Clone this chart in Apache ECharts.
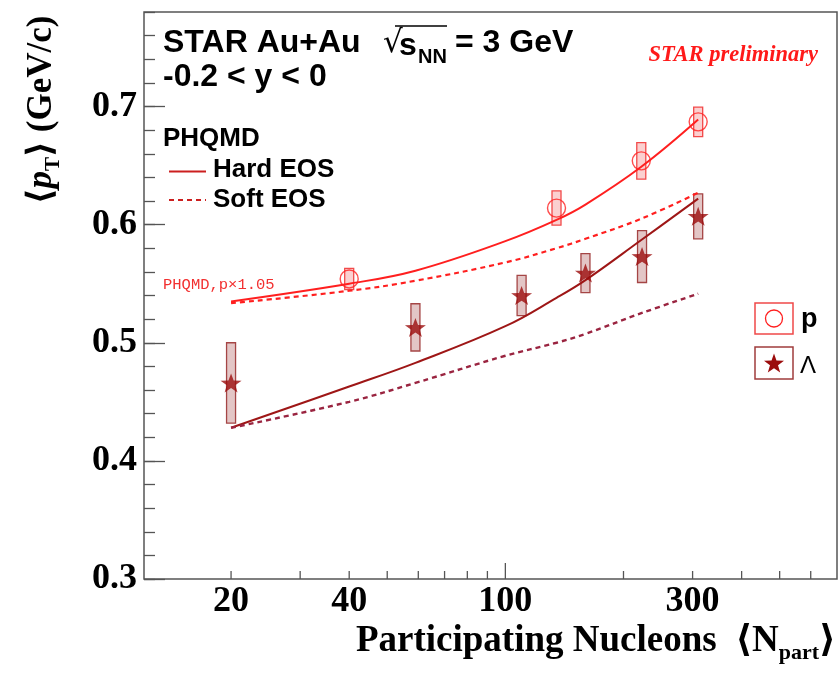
<!DOCTYPE html>
<html>
<head>
<meta charset="utf-8">
<script src="https://cdn.jsdelivr.net/npm/echarts@6/dist/echarts.min.js"></script>
<style>
  html, body { margin: 0; padding: 0; background: #ffffff; }
  #chart { width: 839px; height: 673px; }
</style>
</head>
<body>
<div id="chart"></div>
<script>
// Mean transverse momentum vs. number of participants, Au+Au at 3 GeV,
// protons and Lambdas with PHQMD model curves (hard / soft EOS).

// ---- measured points ----
const protonNpart = [40, 135, 222, 310];
const protonPt    = [0.554, 0.614, 0.654, 0.687];
const protonSys   = [0.009, 0.0145, 0.0155, 0.0125];

const lambdaNpart = [20, 59, 110, 160, 223, 310];
const lambdaPt    = [0.466, 0.513, 0.540, 0.559, 0.573, 0.607];
const lambdaSys   = [0.034, 0.020, 0.017, 0.0165, 0.022, 0.019];

// ---- PHQMD curves ----
const modelNpart   = [20, 40, 59, 100, 135, 160, 222, 310];
const protonHard   = [0.535, 0.550, 0.561, 0.586, 0.604, 0.617, 0.649, 0.689];
const protonSoft   = [0.5335, 0.544, 0.5525, 0.568, 0.580, 0.588, 0.605, 0.627];
const lambdaHard   = [0.428, 0.463, 0.483, 0.514, 0.538, 0.553, 0.587, 0.622];
const lambdaSoft   = [0.428, 0.450, 0.466, 0.489, 0.500, 0.5075, 0.525, 0.5415];

// ---- axis ticks / labels ----
const xMinorTicks = [20, 30, 40, 50, 60, 70, 80, 90, 200, 300, 400, 500, 600];
const xMajorTicks = [100];
const xTickLabels = [20, 40, 100, 300];

const X_MIN = 12, X_MAX = 700;
const Y_MIN = 0.3, Y_MAX = 0.78;

const RED = '#ff1f1f';
const DARK = '#9b0c0c';
const AXIS = '#555555';
const SERIF = '"Liberation Serif", "Times New Roman", "DejaVu Serif", serif';
const SANS = '"Liberation Sans", Arial, Helvetica, sans-serif';

// five-pointed star outline in a 100x100 box
const STAR_PTS = [[50, 0], [61.76, 33.82], [97.55, 34.55], [69.02, 56.18], [79.39, 90.45],
                  [50, 70], [20.61, 90.45], [30.98, 56.18], [2.45, 34.55], [38.24, 33.82]];
const STAR_PATH = 'M' + STAR_PTS.map(p => p[0] + ' ' + p[1]).join(' L') + ' Z';

// star polygon scaled to a given width and centred on (cx, cy)
function starPoints(cx, cy, w) {
  const s = w / 95.1;
  return STAR_PTS.map(p => [cx + (p[0] - 50) * s, cy + (p[1] - 45.2) * s]);
}

const zip = (xs, ys) => xs.map((x, i) => [x, ys[i]]);
const zip3 = (xs, ys, es) => xs.map((x, i) => [x, ys[i], es[i]]);

function boxRenderer(stroke, fill) {
  return function (params, api) {
    const x = api.value(0), y = api.value(1), e = api.value(2);
    const hi = api.coord([x, y + e]);
    const lo = api.coord([x, y - e]);
    return {
      type: 'rect',
      shape: { x: hi[0] - 4.5, y: hi[1], width: 9, height: lo[1] - hi[1] },
      style: { fill: fill, stroke: stroke, lineWidth: 1.3 }
    };
  };
}

function tickRenderer(len) {
  return function (params, api) {
    const p = api.coord([api.value(0), Y_MIN]);
    return {
      type: 'line',
      shape: { x1: p[0], y1: p[1], x2: p[0], y2: p[1] - len },
      style: { stroke: AXIS, lineWidth: 1.3 }
    };
  };
}

function xLabelRenderer(params, api) {
  const v = api.value(0);
  const p = api.coord([v, Y_MIN]);
  return {
    type: 'text',
    x: p[0], y: p[1] + 23,
    style: {
      text: String(v),
      font: 'bold 36px ' + SERIF,
      fill: '#000',
      align: 'center', verticalAlign: 'middle'
    }
  };
}

function curve(name, data, color, dashed, width) {
  return {
    name: name,
    type: 'line',
    data: data,
    smooth: 0.4,
    showSymbol: false,
    symbol: 'none',
    z: 3,
    lineStyle: { color: color, width: width, type: dashed ? [5, 4] : 'solid' }
  };
}

function label(x, y, text, font, extra) {
  return { type: 'text', x: x, y: y,
    style: Object.assign({ text: text, font: font, fill: '#000', verticalAlign: 'middle' }, extra || {}) };
}

const chart = echarts.init(document.getElementById('chart'), null, { renderer: 'canvas' });

const option = {
  animation: false,
  backgroundColor: '#ffffff',
  grid: {
    left: 144, top: 12, right: 2, bottom: 94,
    show: true, borderColor: AXIS, borderWidth: 1.5, backgroundColor: 'transparent'
  },
  xAxis: [{
    type: 'log', logBase: 10, min: X_MIN, max: X_MAX,
    axisLine: { show: false }, axisTick: { show: false },
    axisLabel: { show: false }, splitLine: { show: false }, minorTick: { show: false }
  }],
  yAxis: [{
    type: 'value', min: Y_MIN, max: Y_MAX, interval: 0.1,
    axisLine: { show: false },
    axisTick: { show: true, inside: true, length: 21, lineStyle: { color: AXIS, width: 1.3 } },
    axisLabel: {
      show: true, margin: 7, showMaxLabel: false,
      color: '#000', fontFamily: SERIF, fontWeight: 'bold', fontSize: 36,
      formatter: v => v.toFixed(1)
    },
    splitLine: { show: false }
  }, {
    type: 'value', min: Y_MIN, max: Y_MAX, interval: 0.02, position: 'left', offset: 0,
    axisLine: { show: false },
    axisTick: { show: true, inside: true, length: 11, lineStyle: { color: AXIS, width: 1.3 } },
    axisLabel: { show: false },
    splitLine: { show: false }
  }],
  series: [
    // x-axis ticks and labels on the log scale
    { type: 'custom', clip: false, silent: true, z: 5, data: xMinorTicks.map(v => [v, Y_MIN]), renderItem: tickRenderer(8) },
    { type: 'custom', clip: false, silent: true, z: 5, data: xMajorTicks.map(v => [v, Y_MIN]), renderItem: tickRenderer(16) },
    { type: 'custom', clip: false, silent: true, z: 5, data: xTickLabels.map(v => [v, Y_MIN]), renderItem: xLabelRenderer },

    // systematic-uncertainty boxes
    { name: 'p sys', type: 'custom', z: 2, data: zip3(protonNpart, protonPt, protonSys),
      renderItem: boxRenderer('#f24a4a', 'rgba(248, 176, 176, 0.6)') },
    { name: 'Lambda sys', type: 'custom', z: 2, data: zip3(lambdaNpart, lambdaPt, lambdaSys),
      renderItem: boxRenderer('#a54545', 'rgba(212, 168, 168, 0.65)') },

    // model curves
    curve('PHQMD p hard', zip(modelNpart, protonHard), RED, false, 2),
    curve('PHQMD p soft', zip(modelNpart, protonSoft), RED, true, 2.2),
    curve('PHQMD Lambda hard', zip(modelNpart, lambdaHard), '#9e1616', false, 2),
    curve('PHQMD Lambda soft', zip(modelNpart, lambdaSoft), '#9a2440', true, 2.4),

    // data markers
    { name: 'p', type: 'scatter', z: 4, data: zip(protonNpart, protonPt),
      symbol: 'circle', symbolSize: 18,
      itemStyle: { color: 'rgba(0,0,0,0)', borderColor: RED, borderWidth: 1.4 } },
    { name: 'Λ', type: 'scatter', z: 4, data: zip(lambdaNpart, lambdaPt),
      symbol: 'path://' + STAR_PATH, symbolSize: [21, 20], symbolKeepAspect: true,
      itemStyle: { color: DARK } }
  ],
  graphic: [
    // header
    label(163, 43, 'STAR Au+Au', 'bold 32px ' + SANS),
    label(383, 44, '√', '31px "DejaVu Sans", sans-serif'),
    { type: 'line', shape: { x1: 395, y1: 26, x2: 447, y2: 26 }, style: { stroke: '#000', lineWidth: 1.5 } },
    label(399, 46, 's', 'bold 32px ' + SANS),
    label(418, 57, 'NN', 'bold 20px ' + SANS),
    label(455, 43, '= 3 GeV', 'bold 32px ' + SANS),
    label(163, 77, '-0.2 < y < 0', 'bold 32px ' + SANS),

    // model legend
    label(163, 139, 'PHQMD', 'bold 26px ' + SANS),
    { type: 'line', shape: { x1: 169, y1: 171.5, x2: 206, y2: 171.5 }, style: { stroke: '#cc1f1f', lineWidth: 2 } },
    label(213, 170, 'Hard EOS', 'bold 26px ' + SANS),
    { type: 'line', shape: { x1: 169, y1: 200, x2: 206, y2: 200 }, style: { stroke: '#cc1f1f', lineWidth: 2, lineDash: [5, 4] } },
    label(213, 200, 'Soft EOS', 'bold 26px ' + SANS),

    // preliminary tag
    label(818, 55, 'STAR preliminary', 'italic bold 22.5px ' + SERIF, { fill: '#ff1a1a', align: 'right' }),

    // model scaling note
    label(163, 285, 'PHQMD,p×1.05', '15.5px "Liberation Mono", "DejaVu Sans Mono", monospace', { fill: '#f23030' }),

    // data legend
    { type: 'rect', shape: { x: 755, y: 303, width: 38, height: 31 }, style: { fill: 'none', stroke: '#f04848', lineWidth: 1.5 } },
    { type: 'circle', shape: { cx: 774, cy: 318.5, r: 8.5 }, style: { fill: 'none', stroke: RED, lineWidth: 1.3 } },
    label(801, 320, 'p', 'bold 27px ' + SANS),
    { type: 'rect', shape: { x: 755, y: 347, width: 38, height: 32 }, style: { fill: 'none', stroke: '#a03c3c', lineWidth: 1.5 } },
    { type: 'polygon', shape: { points: starPoints(774, 363, 20) }, style: { fill: DARK } },
    label(800, 366, 'Λ', '24px ' + SANS),

    // axis titles
    { type: 'text', x: 42, y: 110, rotation: Math.PI / 2,
      style: {
        text: '{a|⟨}{p|p}{s|T}{a|⟩ (GeV/c)}',
        align: 'center', verticalAlign: 'middle',
        rich: {
          a: { font: 'bold 35px ' + SERIF, fill: '#000', lineHeight: 44 },
          p: { font: 'italic bold 35px ' + SERIF, fill: '#000', lineHeight: 44 },
          s: { font: 'bold 21px ' + SERIF, fill: '#000', lineHeight: 44, verticalAlign: 'bottom' }
        }
      } },
    { type: 'text', x: 836, y: 641,
      style: {
        text: '{a|Participating Nucleons  ⟨N}{s|part}{a|⟩}',
        align: 'right', verticalAlign: 'middle',
        rich: {
          a: { font: 'bold 37px ' + SERIF, fill: '#000', lineHeight: 46 },
          s: { font: 'bold 22px ' + SERIF, fill: '#000', lineHeight: 46, verticalAlign: 'bottom' }
        }
      } }
  ]
};

chart.setOption(option);
</script>
</body>
</html>
